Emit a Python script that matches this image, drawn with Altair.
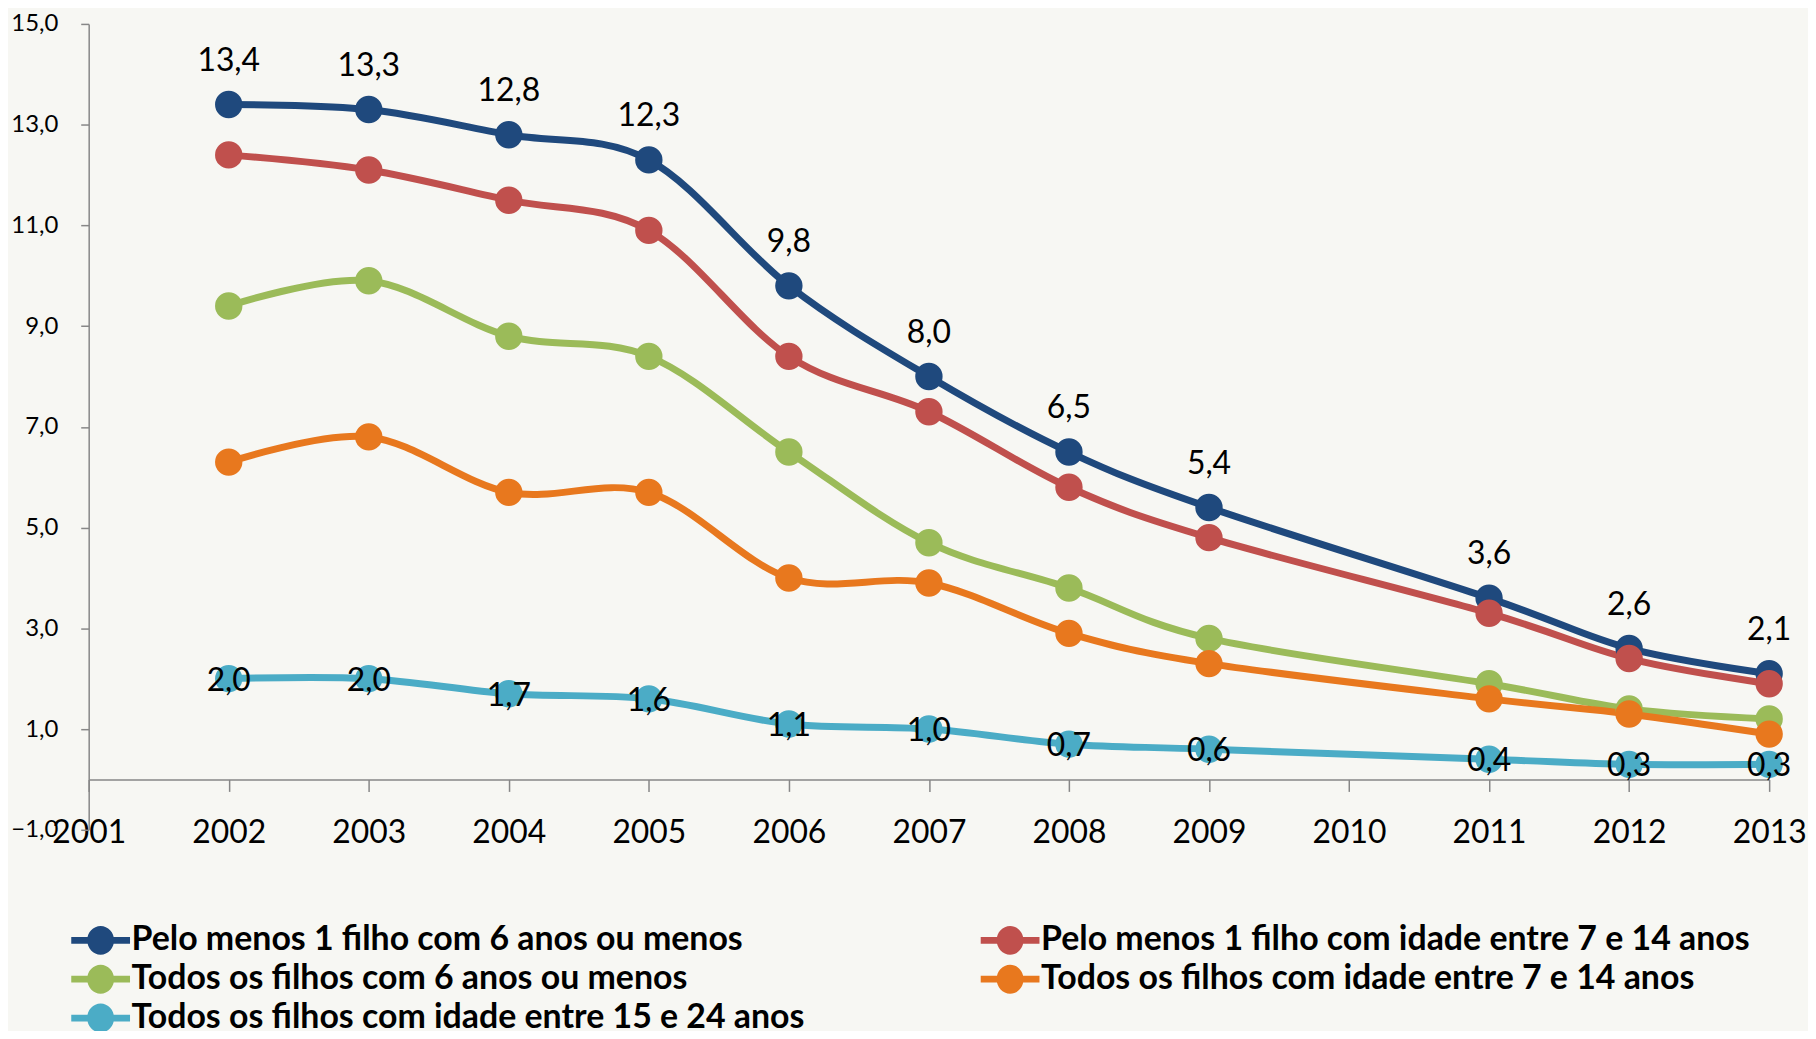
import altair as alt
import pandas as pd

years = [2002, 2003, 2004, 2005, 2006, 2007, 2008, 2009, 2011, 2012, 2013]
series = [
    "Pelo menos 1 filho com 6 anos ou menos",
    "Pelo menos 1 filho com idade entre 7 e 14 anos",
    "Todos os filhos com 6 anos ou menos",
    "Todos os filhos com idade entre 7 e 14 anos",
    "Todos os filhos com idade entre 15 e 24 anos",
]
colors = ["#1F497D", "#C0504D", "#9BBB59", "#E8781E", "#4BACC6"]

pelo_6 = [13.4, 13.3, 12.8, 12.3, 9.8, 8.0, 6.5, 5.4, 3.6, 2.6, 2.1]
pelo_7_14 = [12.4, 12.1, 11.5, 10.9, 8.4, 7.3, 5.8, 4.8, 3.3, 2.4, 1.9]
todos_6 = [9.4, 9.9, 8.8, 8.4, 6.5, 4.7, 3.8, 2.8, 1.9, 1.4, 1.2]
todos_7_14 = [6.3, 6.8, 5.7, 5.7, 4.0, 3.9, 2.9, 2.3, 1.6, 1.3, 0.9]
todos_15_24 = [2.0, 2.0, 1.7, 1.6, 1.1, 1.0, 0.7, 0.6, 0.4, 0.3, 0.3]

x_ticks = list(range(2001, 2014))
y_ticks = [-1, 1, 3, 5, 7, 9, 11, 13, 15]

values = [pelo_6, pelo_7_14, todos_6, todos_7_14, todos_15_24]
rows = []
for i, (name, vals) in enumerate(zip(series, values)):
    for y, v in zip(years, vals):
        rows.append({"serie": name, "ordem": i, "ano": y, "valor": v,
                     "rotulo": f"{v:.1f}".replace(".", ",")})
df = pd.DataFrame(rows)

# legend fills column by column: reorder so rows read as in the original
legend_order = [0, 2, 4, 1, 3]
legend_domain = [series[i] for i in legend_order]
legend_range = [colors[i] for i in legend_order]

FONT = "Lato"
AXIS_GRAY = "#878787"

legend_path = ("M-1.475,-0.17 L1.475,-0.17 L1.475,0.17 L-1.475,0.17 Z "
               "M-0.675,0 A0.675,0.725 0 1,1 0.675,0 A0.675,0.725 0 1,1 -0.675,0 Z")

x_enc = alt.X("ano:Q",
              scale=alt.Scale(domain=[2001, 2013], nice=False, zero=False),
              axis=alt.Axis(values=x_ticks, format="d", title=None, offset=-50.56,
                            tickSize=12, labelPadding=26, labelFontSize=32,
                            labelFont=FONT, labelColor="#000000", grid=False,
                            domainColor=AXIS_GRAY, domainWidth=1.5,
                            tickColor=AXIS_GRAY, tickWidth=1.5, labelFlush=False))
y_enc = alt.Y("valor:Q",
              scale=alt.Scale(domain=[-1, 15], nice=False, zero=False),
              axis=alt.Axis(values=y_ticks, title=None,
                            labelExpr="replace(format(datum.value, '.1f'), '.', ',')",
                            tickSize=8, labelPadding=23, labelFontSize=24,
                            labelFont=FONT, labelColor="#000000", grid=False,
                            domainColor=AXIS_GRAY, domainWidth=1.5,
                            tickColor=AXIS_GRAY, tickWidth=1.5, labelFlush=False))

legend = alt.Legend(title=None, orient="none", legendX=-8, legendY=900,
                    columns=2, columnPadding=176, rowPadding=2,
                    symbolType=legend_path, symbolSize=1600, symbolStrokeWidth=0,
                    symbolOpacity=1, labelFont=FONT, labelFontWeight="bold",
                    labelFontSize=34, labelColor="#000000", labelLimit=1200,
                    labelOffset=11, padding=0)

base = alt.Chart(df)

lines = base.mark_line(strokeWidth=7, interpolate="cardinal").encode(
    x=x_enc, y=y_enc,
    stroke=alt.Stroke("ordem:N", scale=alt.Scale(domain=list(range(len(series))), range=colors),
                      legend=None),
    order="ano:Q",
)

points = base.mark_circle(size=755, opacity=1).encode(
    x=x_enc, y=y_enc,
    color=alt.Color("serie:N", scale=alt.Scale(domain=legend_domain, range=legend_range),
                    legend=legend),
    order="ordem:Q",
)

top_labels = base.transform_filter(alt.datum.ordem == 0).mark_text(
    dy=-44, fontSize=32, font=FONT, color="#000000", baseline="middle"
).encode(x=x_enc, y=y_enc, text="rotulo:N")

low_labels = base.transform_filter(alt.datum.ordem == 4).mark_text(
    dy=2, fontSize=32, font=FONT, color="#000000", baseline="middle"
).encode(x=x_enc, y=y_enc, text="rotulo:N")

chart = alt.layer(lines, points, top_labels, low_labels).properties(
    width=1687, height=809,
    padding={"left": 81, "top": 14, "right": 39, "bottom": 200},
    autosize=alt.AutoSizeParams(type="none"),
    background="#f7f7f3",
).configure_view(stroke=None)

chart.save("out.html", embed_options={"renderer": "svg", "actions": False})
